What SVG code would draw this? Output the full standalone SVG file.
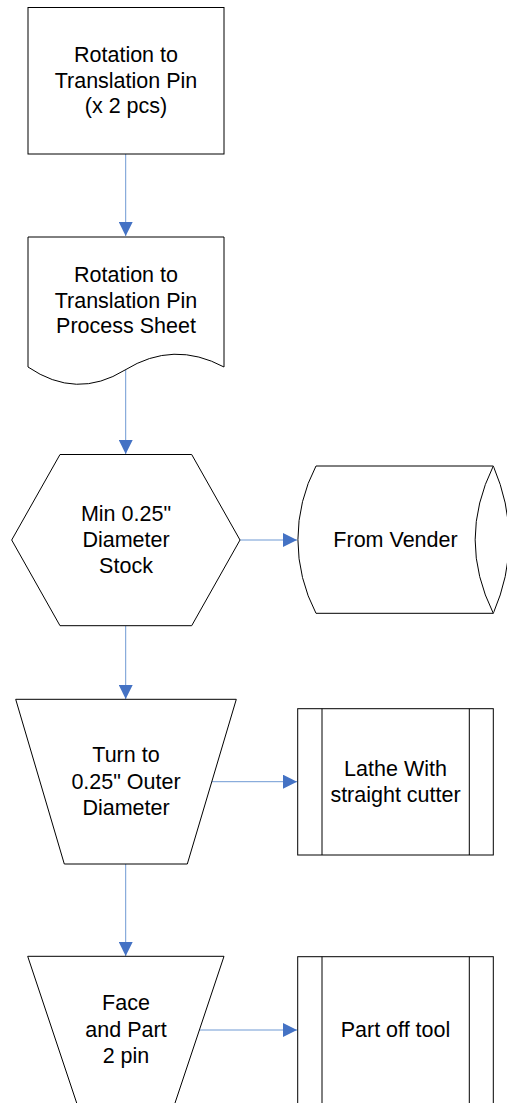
<svg xmlns="http://www.w3.org/2000/svg" width="507" height="1103" viewBox="0 0 507 1103">
<style>
.s{fill:#fff;stroke:#000;stroke-width:1}
.t{font-family:"Liberation Sans",Arial,sans-serif;font-size:21.5px;fill:#000;text-anchor:middle}
.c{stroke:#6F99D3;stroke-width:1;fill:none;marker-end:url(#ah)}
</style>
<defs>
<marker id="ah" markerUnits="userSpaceOnUse" markerWidth="14" markerHeight="14" viewBox="0 0 14 14" refX="14" refY="7" orient="auto">
<path d="M0,0 L14,7 L0,14 Z" fill="#4472C4"/>
</marker>
</defs>
<rect width="507" height="1103" fill="#fff"/>
<g id="connectors">
<line class="c" x1="125.7" y1="154" x2="125.7" y2="236"/>
<line class="c" x1="125.7" y1="370" x2="125.7" y2="454"/>
<line class="c" x1="240" y1="540" x2="297" y2="540"/>
<line class="c" x1="125.7" y1="626" x2="125.7" y2="699"/>
<line class="c" x1="212" y1="781.7" x2="297" y2="781.7"/>
<line class="c" x1="125.7" y1="864" x2="125.7" y2="956"/>
<line class="c" x1="199" y1="1030" x2="297" y2="1030"/>
</g>
<g id="n1">
<rect class="s" x="28" y="7.5" width="196" height="146.5"/>
<text class="t" x="126" y="62">Rotation to</text>
<text class="t" x="126" y="87.5">Translation Pin</text>
<text class="t" x="126" y="113">(x 2 pcs)</text>
</g>
<g id="n2">
<path class="s" d="M28,237 L224,237 L224,367 Q173.5,340 125,370 Q76.5,400 28,367 Z"/>
<text class="t" x="126" y="282">Rotation to</text>
<text class="t" x="126" y="307.5">Translation Pin</text>
<text class="t" x="126" y="333">Process Sheet</text>
</g>
<g id="n3">
<path class="s" d="M60,454.5 L191.7,454.5 L240,540 L191.7,625.7 L60,625.7 L11.7,540 Z"/>
<text class="t" x="126" y="521">Min 0.25"</text>
<text class="t" x="126" y="547">Diameter</text>
<text class="t" x="126" y="573">Stock</text>
</g>
<g id="n4">
<path class="s" d="M316,466 L493.3,466 Q525,540 493.3,613.3 L316,613.3 A159,159 0 0 1 316,466 Z"/>
<path class="s" fill="none" d="M493.3,466 Q457,540 493.3,613.3"/>
<text class="t" x="395.5" y="547">From Vender</text>
</g>
<g id="n5">
<path class="s" d="M15.7,699.3 L236.3,699.3 L187.3,864 L64.3,864 Z"/>
<text class="t" x="126" y="762">Turn to</text>
<text class="t" x="126" y="788.5">0.25" Outer</text>
<text class="t" x="126" y="814.5">Diameter</text>
</g>
<g id="n6">
<rect class="s" x="297.7" y="708.7" width="195.6" height="146.3"/>
<line class="s" x1="322" y1="708.7" x2="322" y2="855"/>
<line class="s" x1="469.3" y1="708.7" x2="469.3" y2="855"/>
<text class="t" x="395.5" y="775.5">Lathe With</text>
<text class="t" x="395.5" y="801.5">straight cutter</text>
</g>
<g id="n7">
<path class="s" d="M27.7,956.3 L224,956.3 L168,1124 L83.7,1124 Z"/>
<text class="t" x="126" y="1010">Face</text>
<text class="t" x="126" y="1036.5">and Part</text>
<text class="t" x="126" y="1062.5">2 pin</text>
</g>
<g id="n8">
<rect class="s" x="297.7" y="956.7" width="195.6" height="147.5"/>
<line class="s" x1="322" y1="956.7" x2="322" y2="1104.2"/>
<line class="s" x1="469.3" y1="956.7" x2="469.3" y2="1104.2"/>
<text class="t" x="395.5" y="1037">Part off tool</text>
</g>
</svg>
